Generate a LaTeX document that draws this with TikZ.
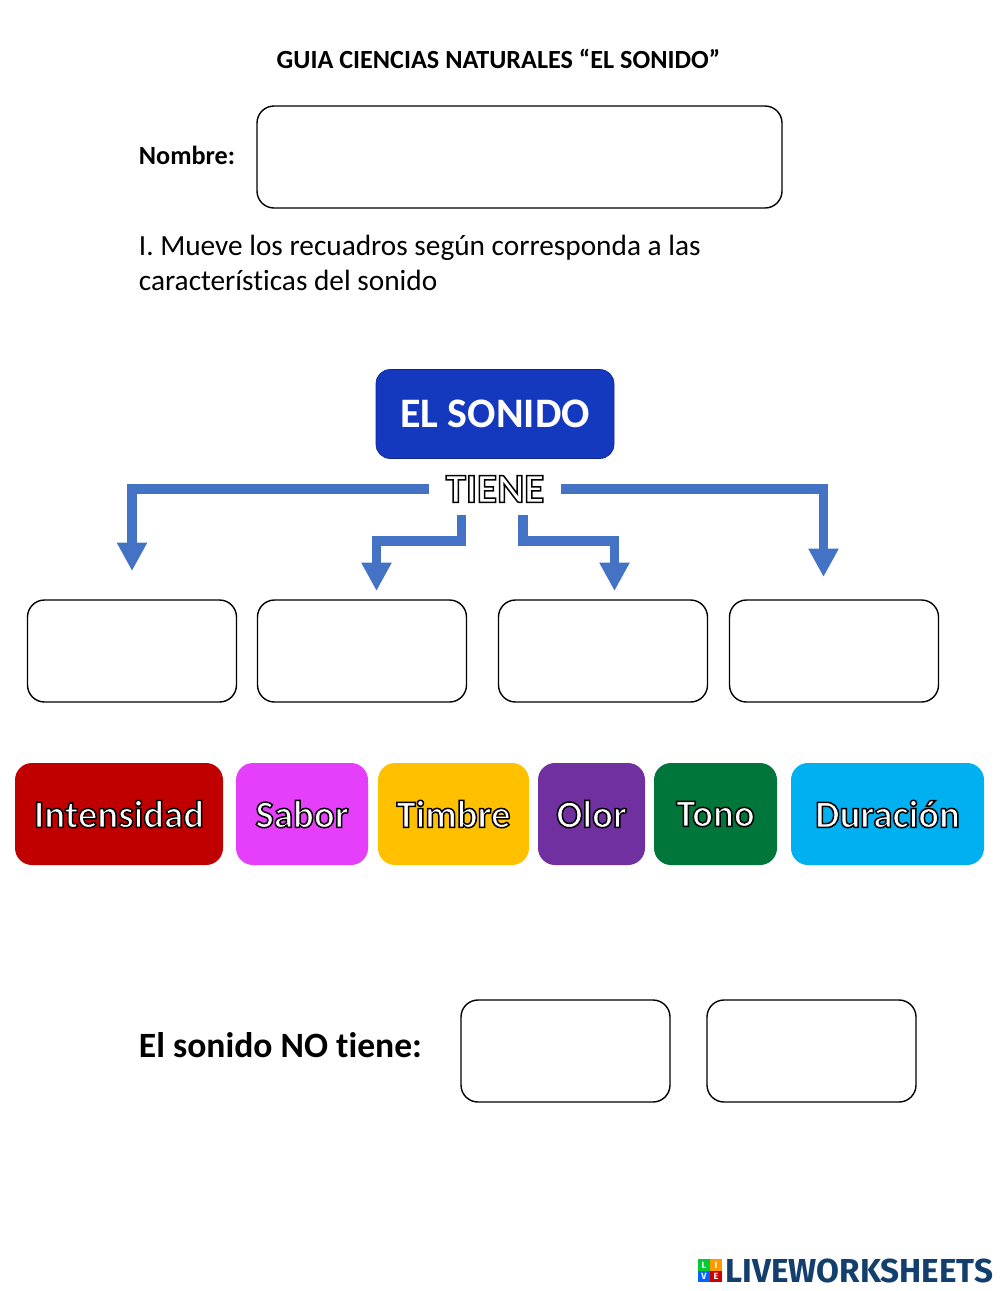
\documentclass[tikz,border=0pt]{standalone}
\usepackage{fontspec}
\setmainfont{Carlito}[RawFeature=-liga]
\newfontfamily\logofont{Fira Sans}
\usetikzlibrary{arrows.meta}
\definecolor{arrowblue}{HTML}{4472C4}
\definecolor{titleblue}{HTML}{1438BE}
\definecolor{logoblue}{HTML}{123F6D}
\newcommand{\outlined}[2][0.75]{\special{pdf:code q #1 w 0 G 1 g 2 Tr}#2\special{pdf:code 0 Tr Q}}
\tikzset{
  blank/.style={draw=black, line width=.7pt, rounded corners=8.5pt, minimum width=104.5pt, minimum height=51pt, inner sep=0pt},
  chip/.style={fill=#1, rounded corners=8.5pt, minimum height=51pt, inner sep=0pt, text=white, font=\bfseries\fontsize{19.4}{22}\selectfont},
  lead/.style={draw=arrowblue, line width=4.6pt, -{Triangle[width=14.2pt,length=14.2pt]}},
  label/.style={anchor=west, inner sep=0pt, align=left},
  cube/.style={fill=#1, minimum size=5.6pt, inner sep=0pt, text=white, font=\logofont\bfseries\fontsize{4.5}{5}\selectfont}
}
\begin{document}
\begin{tikzpicture}[x=.5pt,y=-.5pt]
\useasboundingbox (0,0) rectangle (1000,1291);

\node[inner sep=0pt,font=\bfseries\fontsize{13.1}{15}\selectfont] (title) at (498.5,59) {GUIA CIENCIAS NATURALES “EL SONIDO”};
\node[label,font=\bfseries\fontsize{13.1}{15}\selectfont] (nombre) at (138.5,155) {Nombre:};
\node[blank,minimum width=262.5pt] (namebox) at (519.5,157) {};
\node[label,font=\fontsize{14.65}{17.6}\selectfont] (task) at (138.5,263) {I. Mueve los recuadros según corresponda a las\\características del sonido};

\node[fill=titleblue, draw=titleblue!70!black, line width=.3pt, rounded corners=7pt, minimum width=119pt, minimum height=44.5pt, inner sep=0pt, text=white, font=\bfseries\fontsize{21}{24}\selectfont] (sonido) at (495,414) {EL SONIDO};
\node[minimum width=66pt, minimum height=26pt, inner sep=0pt, text=white, font=\bfseries\fontsize{20.6}{24}\selectfont] (tiene) at (495,489) {\outlined{TIENE}};

% where the arrows end
\coordinate (tipA) at (132,571);
\coordinate (tipB) at (376.5,591);
\coordinate (tipC) at (614.5,591);
\coordinate (tipD) at (823.5,577);

\draw[lead] (tiene.west) -| (tipA);
\draw[lead] (tiene.east) -| (tipD);
\draw[lead] ([xshift=-16.75pt]tiene.south) -- ++(0,25.5) -| (tipB);
\draw[lead] ([xshift=14pt]tiene.south) -- ++(0,25.5) -| (tipC);

\foreach \name/\xpos in {slotA/132, slotB/362, slotC/603, slotD/834}
  \node[blank] (\name) at (\xpos,651) {};

\foreach \name/\xpos/\wide/\col/\txt in {
    intensidad/119/104/C00000/Intensidad,
    sabor/302/66/E63FFB/Sabor,
    timbre/453.5/75.5/FFC000/Timbre,
    olor/591.5/53.5/7030A0/Olor,
    tono/715.5/61.5/00763B/Tono,
    duracion/887.5/96.5/00B0F0/Duración}
{
  \definecolor{chipcol}{HTML}{\col}
  \node[chip=chipcol, minimum width=\wide pt] (\name) at (\xpos,814) {\outlined{\txt}};
}

\node[label,font=\bfseries\fontsize{17.8}{20}\selectfont] (nolabel) at (138.5,1045) {El sonido NO tiene:};
\node[blank] (slotE) at (565.5,1051) {};
\node[blank] (slotF) at (811.5,1051) {};

% logo
\node[cube=green!60!teal] (logoL) at (704,1265) {L};
\node[cube=orange!80!yellow] (logoI) at (716,1265) {I};
\node[cube=blue!60!cyan] (logoV) at (704,1276.5) {V};
\node[cube=red!80!black] (logoE) at (716,1276.5) {E};
\node[label,text=logoblue,font=\logofont\bfseries\fontsize{16.6}{18}\selectfont] (logo) at (725,1270.5) {LIVEWORKSHEETS};
\end{tikzpicture}
\end{document}
